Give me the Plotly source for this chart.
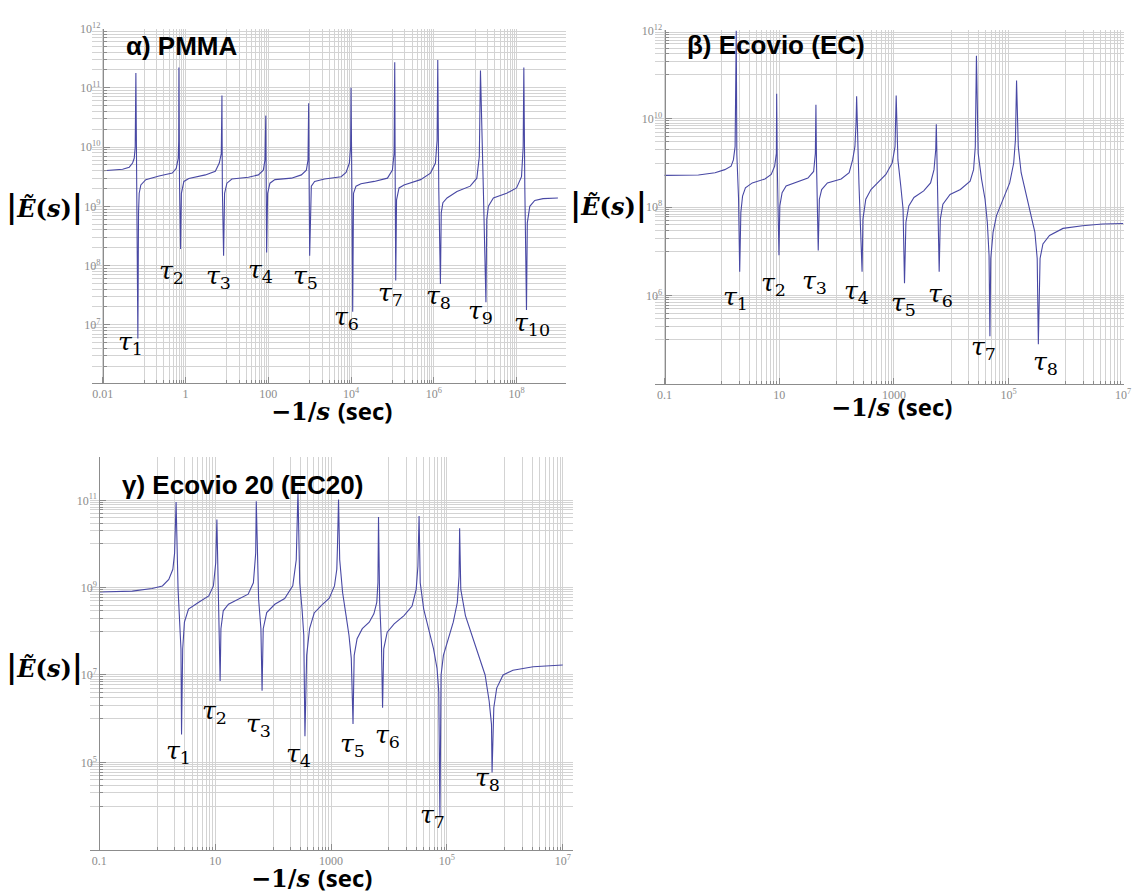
import plotly.graph_objects as go

# ---------------- data (log10 values) ----------------
# x = log10(-1/s [sec]),  y = log10(|E(s)|)
pmma_log_t = [-2.0, -1.52, -1.36, -1.28, -1.24, -1.216, -1.20,
              -1.184, -1.152, -1.136, -1.12, -1.08, -0.96, -0.64, -0.32, -0.224, -0.176, -0.165, -0.16,
              -0.145, -0.12, -0.10, -0.04, 0.08, 0.48, 0.72, 0.816, 0.864, 0.88,
              0.89, 0.92, 0.944, 1.0, 1.12, 1.52, 1.76, 1.88, 1.92, 1.94,
              1.95, 1.96, 1.984, 2.04, 2.16, 2.56, 2.80, 2.92, 2.96, 2.976,
              2.988, 3.0, 3.04, 3.12, 3.36, 3.76, 3.88, 3.96, 3.99, 4.0,
              4.02, 4.04, 4.06, 4.12, 4.24, 4.56, 4.88, 5.0, 5.04, 5.056,
              5.068, 5.08, 5.10, 5.16, 5.28, 5.68, 5.92, 6.04, 6.08, 6.096,
              6.12, 6.16, 6.18, 6.22, 6.32, 6.56, 6.88, 7.04, 7.10, 7.128,
              7.2, 7.26, 7.28, 7.32, 7.44, 7.76, 8.0, 8.12, 8.16, 8.176,
              8.20, 8.24, 8.26, 8.32, 8.44, 8.64, 9.0]
pmma_log_E = [9.60, 9.625, 9.66, 9.73, 9.81, 10.0, 11.25,
              9.34, 6.77, 8.89, 9.22, 9.36, 9.45, 9.51, 9.56, 9.64, 9.81, 10.1, 11.34,
              9.40, 8.28, 9.22, 9.42, 9.47, 9.53, 9.59, 9.73, 9.89, 10.87,
              9.3, 8.165, 9.22, 9.39, 9.46, 9.49, 9.53, 9.61, 9.78, 10.53,
              9.3, 8.22, 9.22, 9.39, 9.45, 9.475, 9.53, 9.61, 9.78, 10.74,
              9.3, 8.165, 9.34, 9.42, 9.46, 9.50, 9.57, 9.73, 10.0, 11.0,
              9.3, 7.22, 9.22, 9.34, 9.38, 9.42, 9.475, 9.61, 9.89, 11.43,
              9.3, 7.75, 9.11, 9.31, 9.36, 9.45, 9.56, 9.73, 10.12, 11.47,
              9.3, 7.69, 8.89, 9.06, 9.14, 9.25, 9.34, 9.475, 9.84, 11.29,
              9.22, 7.38, 8.78, 9.0, 9.14, 9.22, 9.31, 9.50, 10.0, 11.34,
              9.3, 7.25, 8.72, 9.0, 9.10, 9.13, 9.14]

ec_log_t = [-1.0, -0.41, -0.12, 0.05, 0.16, 0.20, 0.23, 0.24, 0.25,
            0.26, 0.29, 0.31, 0.33, 0.36, 0.41, 0.53, 0.75, 0.86, 0.92, 0.95, 0.955,
            0.965, 0.995, 1.01, 1.05, 1.12, 1.32, 1.50, 1.60, 1.63, 1.64,
            1.65, 1.68, 1.70, 1.74, 1.84, 2.08, 2.22, 2.28, 2.32, 2.34, 2.35,
            2.39, 2.445, 2.46, 2.51, 2.60, 2.71, 2.86, 2.97, 3.02, 3.04,
            3.07, 3.12, 3.16, 3.185, 3.21, 3.26, 3.35, 3.52, 3.64, 3.70, 3.73, 3.74,
            3.76, 3.79, 3.81, 3.855, 3.98, 4.16, 4.33, 4.39, 4.42, 4.44,
            4.47, 4.53, 4.59, 4.63, 4.66, 4.675, 4.69, 4.73, 4.79, 4.91, 5.02, 5.09, 5.12, 5.14,
            5.17, 5.22, 5.30, 5.39, 5.46, 5.50, 5.52, 5.55, 5.60, 5.715, 5.95, 6.29, 6.64, 7.0]
ec_log_E = [8.72, 8.73, 8.78, 8.85, 8.93, 9.07, 9.37, 10.27, 12.0,
            9.2, 8.2, 6.54, 7.88, 8.25, 8.44, 8.55, 8.64, 8.74, 8.93, 9.22, 10.57,
            9.0, 6.91, 8.03, 8.33, 8.48, 8.57, 8.66, 8.81, 9.22, 10.32,
            9.0, 7.02, 8.18, 8.40, 8.55, 8.64, 8.78, 9.07, 9.37, 9.90, 10.51,
            8.55, 6.54, 7.73, 8.18, 8.40, 8.55, 8.74, 9.0, 9.37, 10.53,
            9.07, 8.48, 7.96, 6.28, 7.66, 8.03, 8.22, 8.37, 8.55, 8.85, 9.30, 9.88,
            8.5, 6.54, 7.73, 8.07, 8.29, 8.40, 8.59, 8.85, 9.37, 11.43,
            9.22, 8.63, 8.18, 7.66, 6.91, 5.08, 6.84, 7.43, 7.81, 8.18, 8.55, 9.0, 9.52, 10.87,
            9.37, 8.78, 8.33, 7.88, 7.43, 6.84, 4.90, 6.84, 7.17, 7.36, 7.52, 7.58, 7.62, 7.63]

ec20_log_t = [-1.0, -0.43, -0.09, 0.09, 0.2, 0.27, 0.30, 0.326,
              0.36, 0.38, 0.41, 0.42, 0.44, 0.47, 0.54, 0.71, 0.89, 0.97, 1.01, 1.03,
              1.06, 1.086, 1.10, 1.14, 1.23, 1.40, 1.57, 1.66, 1.70, 1.71,
              1.75, 1.79, 1.81, 1.83, 1.89, 2.03, 2.2, 2.34, 2.40, 2.43,
              2.46, 2.50, 2.53, 2.55, 2.58, 2.63, 2.71, 2.84, 2.97, 3.06, 3.10, 3.11, 3.13,
              3.15, 3.20, 3.26, 3.31, 3.35, 3.38, 3.40, 3.45, 3.54, 3.66, 3.74, 3.79, 3.81, 3.82,
              3.84, 3.87, 3.89, 3.91, 3.97, 4.09, 4.26, 4.40, 4.47, 4.50, 4.52,
              4.54, 4.60, 4.69, 4.77, 4.83, 4.86, 4.88, 4.90, 4.94, 5.03, 5.11, 5.18, 5.21, 5.22,
              5.24, 5.32, 5.43, 5.55, 5.66, 5.73, 5.77, 5.78, 5.81, 5.86, 5.97, 6.14, 6.49, 7.0]
ec20_log_E = [8.90, 8.92, 8.98, 9.04, 9.19, 9.42, 9.79, 10.96,
              8.96, 8.36, 7.60, 5.64, 7.60, 8.21, 8.51, 8.66, 8.81, 9.04, 9.57, 10.56,
              8.51, 6.86, 8.06, 8.47, 8.62, 8.74, 8.85, 9.11, 9.79, 10.98,
              8.74, 8.06, 6.64, 8.06, 8.43, 8.62, 8.75, 9.04, 9.64, 11.23,
              9.11, 8.51, 7.91, 5.60, 7.45, 8.06, 8.42, 8.60, 8.76, 9.04, 9.42, 9.87, 11.02,
              9.64, 8.89, 8.36, 7.91, 7.38, 5.88, 7.45, 7.83, 8.06, 8.21, 8.40, 8.66, 9.11, 10.62,
              8.66, 7.75, 6.25, 7.60, 7.98, 8.17, 8.36, 8.58, 8.96, 9.49, 10.64,
              9.11, 8.51, 8.06, 7.60, 7.15, 6.62, 3.75, 7.0, 7.45, 7.83, 8.21, 8.66, 9.26, 10.36,
              8.96, 8.36, 7.91, 7.45, 7.0, 6.40, 5.87, 4.77, 6.25, 6.70, 7.0, 7.11, 7.19, 7.23]

# tick labels
pmma_xticks = [0.01, 1, 100, 1e4, 1e6, 1e8]
pmma_xticktext = ["0.01", "1", "100", "10<sup>4</sup>", "10<sup>6</sup>", "10<sup>8</sup>"]
pmma_yticks = [1e7, 1e8, 1e9, 1e10, 1e11, 1e12]
pmma_yticktext = ["10<sup>7</sup>", "10<sup>8</sup>", "10<sup>9</sup>", "10<sup>10</sup>",
                  "10<sup>11</sup>", "10<sup>12</sup>"]
ec_xticks = [0.1, 10, 1000, 1e5, 1e7]
ec_xticktext = ["0.1", "10", "1000", "10<sup>5</sup>", "10<sup>7</sup>"]
ec_yticks = [1e6, 1e8, 1e10, 1e12]
ec_yticktext = ["10<sup>6</sup>", "10<sup>8</sup>", "10<sup>10</sup>", "10<sup>12</sup>"]
ec20_yticks = [1e5, 1e7, 1e9, 1e11]
ec20_yticktext = ["10<sup>5</sup>", "10<sup>7</sup>", "10<sup>9</sup>", "10<sup>11</sup>"]

panel_titles = ["α) PMMA", "β) Ecovio (EC)", "γ) Ecovio 20 (EC20)"]
pmma_taus = list(range(1, 11))
ec_taus = list(range(1, 9))
ec20_taus = list(range(1, 9))

# ---------------- layout helpers ----------------
W, H = 1140, 892
def fx(p): return p / W
def fy(p): return 1 - p / H

def minor_vals(decades, mults):
    return [m * 10.0 ** k for k in decades for m in mults]

GRID = "#d3d3d3"
AX = "#8c8c8c"
LINE = "#4848a4"

def axis(rng, dom, tickvals, ticktext, minors, **kw):
    d = dict(type="log", range=rng, domain=dom, showline=True, linecolor=AX, linewidth=1,
             ticks="inside", ticklen=6, tickcolor=AX, tickwidth=1,
             showgrid=True, gridcolor=GRID, gridwidth=1, zeroline=False,
             tickmode="array", tickvals=tickvals, ticktext=ticktext,
             tickfont=dict(family="Liberation Serif", size=12, color=AX),
             minor=dict(tickmode="array", tickvals=minors, ticks="inside", ticklen=3,
                        tickcolor=AX, showgrid=True, gridcolor=GRID, gridwidth=1),
             fixedrange=True)
    d.update(kw)
    return d

fig = go.Figure()
for (xs, ys, xa, ya) in [(pmma_log_t, pmma_log_E, "x", "y"),
                          (ec_log_t, ec_log_E, "x2", "y2"),
                          (ec20_log_t, ec20_log_E, "x3", "y3")]:
    fig.add_trace(go.Scatter(x=[10 ** v for v in xs], y=[10 ** v for v in ys],
                             mode="lines", line=dict(color=LINE, width=1.1),
                             xaxis=xa, yaxis=ya, showlegend=False, hoverinfo="skip"))

layout = dict(
    width=W, height=H, margin=dict(l=0, r=0, t=0, b=0),
    paper_bgcolor="white", plot_bgcolor="white", showlegend=False,
    xaxis=axis([-2.252, 9.195], [fx(93), fx(570)], pmma_xticks, pmma_xticktext,
               minor_vals([-1, 1, 3, 5, 7], range(1, 10)), anchor="y"),
    yaxis=axis([6.025, 12.0], [fy(378), fy(20.7)], pmma_yticks, pmma_yticktext,
               minor_vals(range(6, 12), range(2, 10)), anchor="free", position=fx(103.5)),
    xaxis2=axis([-1.161, 7.01], [fx(660), fx(1131.7)], ec_xticks, ec_xticktext,
                minor_vals([0, 2, 4, 6], range(1, 10)), anchor="y2"),
    yaxis2=axis([4.0, 12.0], [fy(379.3), fy(22.7)], ec_yticks, ec_yticktext,
                minor_vals([5, 7, 9, 11], range(1, 10)), anchor="free", position=fx(669.3)),
    xaxis3=axis([-1.159, 7.171], [fx(90.7), fx(576.7)], ec_xticks, ec_xticktext,
                minor_vals([0, 2, 4, 6], range(1, 10)), anchor="y3"),
    yaxis3=axis([3.0, 12.0], [fy(849.3), fy(452.7)], ec20_yticks, ec20_yticktext,
                minor_vals([4, 6, 8, 10], range(1, 10)), anchor="free", position=fx(100)),
)
fig.update_layout(**layout)

ann = []
def add(text, x, y, family, size, color="black"):
    ann.append(dict(text=text, x=fx(x), y=fy(y), xref="paper", yref="paper",
                    xanchor="center", yanchor="middle", showarrow=False,
                    font=dict(family=family, size=size, color=color)))

# panel titles
for t, (x, y) in zip(panel_titles, [(183.5, 38), (781.5, 37), (244, 481)]):
    add("<b>%s</b>" % t, x, y, "Liberation Sans", 26)

# y labels
ylab = ('<b><span style="font-size:31px">|</span><i>Ẽ</i>(<i>s</i>)'
        '<span style="font-size:31px">|</span></b>')
for (x, y) in [(45, 200), (613, 198), (45, 664)]:
    add(ylab, x, y, "DejaVu Serif", 24)

# x labels
xl = ('<b>−1/<i>s</i></b> '
      '<span style="font-family:Open Sans;font-weight:bold;font-size:24px">(sec)</span>')
for (x, y) in [(334, 406), (898, 402), (314, 877)]:
    add(xl, x, y, "DejaVu Serif", 24)

# tau labels
pmma_pos = [(131, 338), (172.5, 266), (220.5, 271.7), (262, 265), (307.5, 271),
            (349, 313), (393, 289), (441.7, 291.7), (484, 306.7), (536, 319)]
ec_pos = [(741, 292.5), (779, 278), (820.5, 276.7), (862.5, 286.7), (909.7, 299),
          (947.5, 290), (990.8, 343.3), (1052.7, 358.3)]
ec20_pos = [(179.7, 750.8), (216, 710), (260, 723), (300.5, 754), (354.7, 744),
            (390, 734.7), (435.8, 815.8), (491.3, 778.3)]
for taus, pos in [(pmma_taus, pmma_pos), (ec_taus, ec_pos), (ec20_taus, ec20_pos)]:
    for n, (x, y) in zip(taus, pos):
        add("<i>τ</i><sub>%d</sub>" % n, x, y, "DejaVu Serif", 25)

fig.update_layout(annotations=ann)
fig.write_html("out.html")
